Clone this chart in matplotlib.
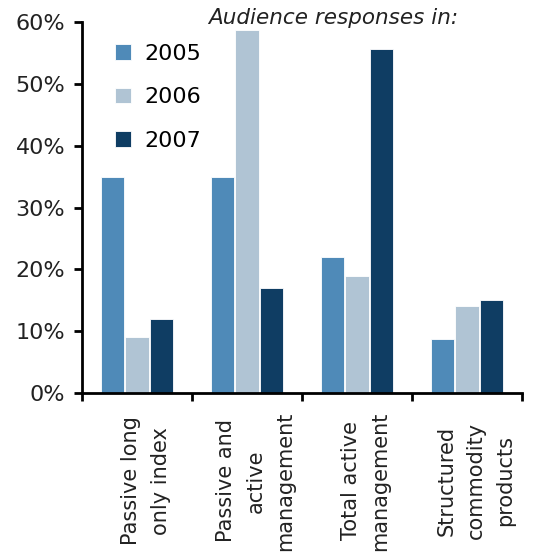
import matplotlib
matplotlib.use("Agg")
import matplotlib.pyplot as plt
import numpy as np

categories = ["Passive long\nonly index", "Passive and\nactive\nmanagement",
              "Total active\nmanagement", "Structured\ncommodity\nproducts"]
years = ["2005", "2006", "2007"]
v2005 = [35, 35, 22, 8.7]
v2006 = [9, 58.7, 19, 14]
v2007 = [12, 17, 55.6, 15]
colors = ["#4f8ab8", "#b0c4d4", "#0f3d63"]

fig = plt.figure(figsize=(5.39, 5.54), dpi=100)
ax = fig.add_axes([82/539, 1-393/554, (522-82)/539, (393-22)/554])

x = np.arange(len(categories)) + 0.5
pitch = 0.225
for i, (vals, lab, c) in enumerate(zip([v2005, v2006, v2007], years, colors)):
    ax.bar(x + (i-1)*pitch, vals, width=0.21, color=c, edgecolor="white", linewidth=0.6, label=lab)

ax.set_xlim(0, 4)
ax.set_ylim(0, 60)
ax.set_yticks(np.arange(0, 61, 10))
ax.set_yticklabels([f"{t}%" for t in range(0, 61, 10)])
ax.set_xticks(np.arange(0, 5))
ax.set_xticklabels([])
for xi, lab in zip(x, categories):
    ax.text(xi + 0.08, -0.237, lab, rotation=90, ha="center", va="center", multialignment="center",
            linespacing=1.6, fontsize=15, color="#222222", transform=ax.get_xaxis_transform())

for s in ["top", "right"]:
    ax.spines[s].set_visible(False)
for s in ["left", "bottom"]:
    ax.spines[s].set_linewidth(2)
ax.tick_params(axis="both", direction="out", length=6, width=2, labelsize=16, colors="black",
               labelcolor="#222222")
ax.tick_params(axis="y", pad=6)

ax.text(0.57, 1.01, "Audience responses in:", style="italic", fontsize=15.5, ha="center", va="center",
        transform=ax.transAxes, color="#222222")

leg = ax.legend(loc="upper left", bbox_to_anchor=(0.03, 0.995), frameon=False, fontsize=16,
                handlelength=0.7, handleheight=0.7, labelspacing=1.05, handletextpad=0.6)

fig.savefig("out.png", dpi=100)
